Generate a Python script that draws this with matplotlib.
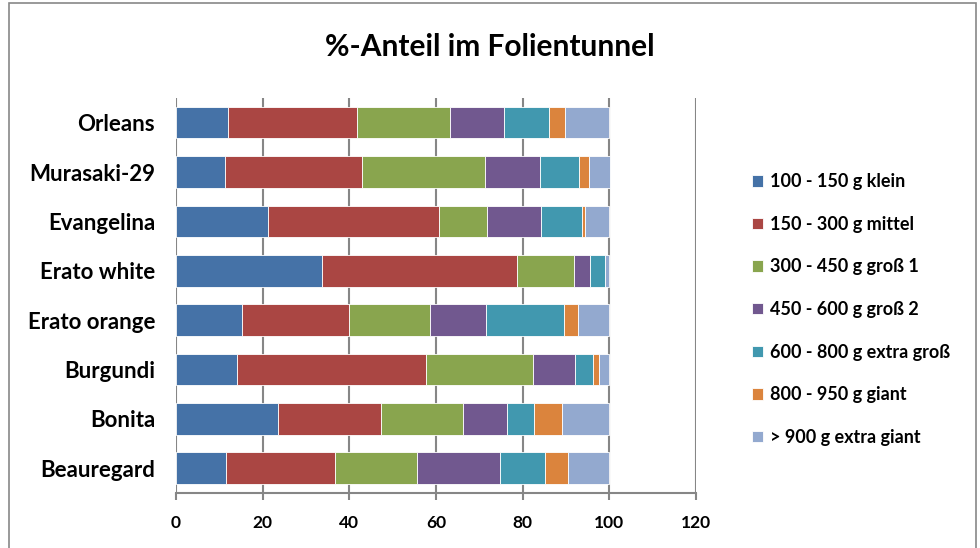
import matplotlib.pyplot as plt
from matplotlib.patches import Rectangle

plt.rcParams['font.family'] = ['Lato', 'DejaVu Sans']
plt.rcParams['font.weight'] = 'bold'

sorten = ['Beauregard', 'Bonita', 'Burgundi', 'Erato orange', 'Erato white',
          'Evangelina', 'Murasaki-29', 'Orleans']
klassen = ['100 - 150 g klein', '150 - 300 g mittel', '300 - 450 g groß 1',
           '450 - 600 g groß 2', '600 - 800 g extra groß', '800 - 950 g giant',
           '> 900 g extra giant']

# percentage share per size class, one list per class (same order as sorten)
klein = [11.5, 23.5, 14.0, 15.2, 33.7, 21.3, 11.2, 12.0]
mittel = [25.3, 23.7, 43.6, 24.7, 45.0, 39.3, 31.7, 29.7]
gross1 = [18.9, 19.0, 24.8, 18.6, 13.2, 11.1, 28.3, 21.5]
gross2 = [19.0, 10.2, 9.7, 13.1, 3.7, 12.5, 12.9, 12.5]
extra_gross = [10.4, 6.3, 4.2, 17.9, 3.4, 9.6, 8.8, 10.4]
giant = [5.4, 6.3, 1.4, 3.2, 0.0, 0.7, 2.3, 3.7]
extra_giant = [9.5, 11.0, 2.3, 7.3, 1.0, 5.5, 4.9, 10.2]

serien = [klein, mittel, gross1, gross2, extra_gross, giant, extra_giant]
farben = ['#4572A7', '#AA4643', '#89A54E', '#71588F', '#4198AF', '#DB843D', '#93A9CF']

fig = plt.figure(figsize=(9.8, 5.48), dpi=100)
ax = fig.add_axes([0.1796, 0.1004, 0.5306, 0.7208])

pos = range(len(sorten))
links = [0.0] * len(sorten)
for werte, farbe, name in zip(serien, farben, klassen):
    ax.barh(pos, werte, left=links, height=0.64, color=farbe,
            edgecolor='white', linewidth=0.6, label=name, zorder=3)
    links = [a + b for a, b in zip(links, werte)]

ax.set_xlim(0, 120)
ax.set_ylim(-0.5, len(sorten) - 0.5)
ax.set_xticks(range(0, 121, 20))
ax.set_yticks(list(pos))
ax.set_yticklabels(sorten, fontsize=16, fontweight='bold')
ax.tick_params(axis='x', labelsize=12.5, direction='out', length=5, color='#868686', width=1.5, pad=11)
ax.tick_params(axis='y', length=0, pad=15)
ax.grid(axis='x', color='#868686', linewidth=1.5, zorder=0)
for s in ['top', 'right', 'left']:
    ax.spines[s].set_visible(False)
ax.spines['bottom'].set_color('#868686')
ax.spines['bottom'].set_linewidth(1.5)

fig.text(0.5, 0.914, '%-Anteil im Folientunnel', ha='center', va='center',
         fontsize=21.5, fontweight='bold')

handles, labels = ax.get_legend_handles_labels()
fig.legend(handles, labels, loc='center left', bbox_to_anchor=(0.753, 0.435),
           frameon=False, fontsize=13, handlelength=0.6, handleheight=0.6,
           handletextpad=0.4, labelspacing=1.42, borderpad=0.3)

# outer chart frame
fig.patches.append(Rectangle((0.009, -0.01), 0.987, 1.004, transform=fig.transFigure,
                             fill=False, edgecolor='#888888', linewidth=1.2))

plt.savefig('out.png', dpi=100)
